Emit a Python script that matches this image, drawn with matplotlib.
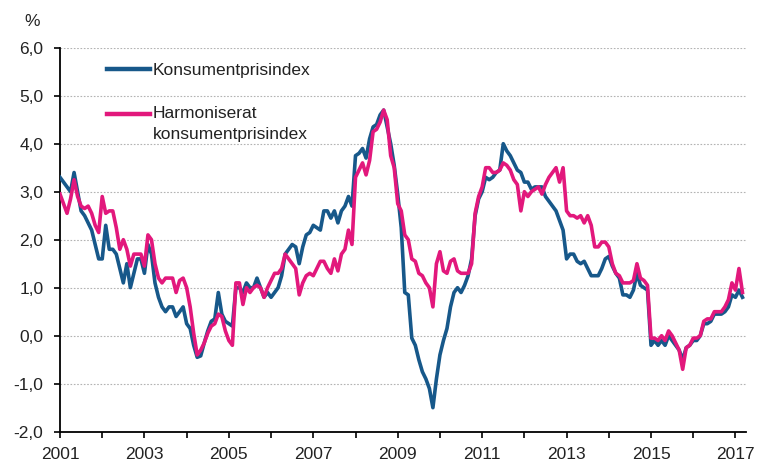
import numpy as np
import matplotlib
matplotlib.use("Agg")
import matplotlib.pyplot as plt
from matplotlib.lines import Line2D

plt.rcParams['font.family'] = ['Liberation Sans', 'DejaVu Sans']

# Monthly annual change (%), Jan 2001 - Mar 2017
kpi = [
    3.3, 3.2, 3.1, 3.0, 3.4, 3.0, 2.6, 2.5, 2.35, 2.2, 1.9, 1.6,          # 2001
    1.6, 2.3, 1.8, 1.8, 1.7, 1.4, 1.1, 1.5, 1.0, 1.3, 1.6, 1.6,           # 2002
    1.3, 1.9, 1.7, 1.1, 0.8, 0.6, 0.5, 0.6, 0.6, 0.4, 0.5, 0.6,           # 2003
    0.25, 0.15, -0.2, -0.45, -0.42, -0.15, 0.1, 0.3, 0.35, 0.9, 0.45, 0.3, # 2004
    0.25, 0.2, 1.0, 1.0, 0.9, 1.1, 1.0, 1.0, 1.2, 1.0, 0.8, 0.9,          # 2005
    0.8, 0.9, 1.0, 1.25, 1.7, 1.8, 1.9, 1.85, 1.5, 1.85, 2.1, 2.15,       # 2006
    2.3, 2.25, 2.2, 2.6, 2.6, 2.45, 2.6, 2.35, 2.6, 2.7, 2.9, 2.7,        # 2007
    3.75, 3.8, 3.9, 3.7, 4.1, 4.35, 4.4, 4.6, 4.7, 4.35, 4.0, 3.55,       # 2008
    2.95, 2.25, 0.9, 0.85, -0.05, -0.2, -0.5, -0.75, -0.9, -1.1, -1.5, -0.9,  # 2009
    -0.4, -0.1, 0.15, 0.6, 0.9, 1.0, 0.9, 1.05, 1.25, 1.6, 2.5, 2.85,     # 2010
    3.0, 3.3, 3.25, 3.3, 3.4, 3.45, 4.0, 3.85, 3.75, 3.6, 3.45, 3.4,      # 2011
    3.2, 3.2, 3.05, 3.1, 3.1, 3.1, 2.9, 2.8, 2.7, 2.6, 2.4, 2.2,          # 2012
    1.6, 1.7, 1.7, 1.55, 1.5, 1.55, 1.4, 1.25, 1.25, 1.25, 1.4, 1.6,      # 2013
    1.65, 1.45, 1.3, 1.2, 0.85, 0.85, 0.8, 0.95, 1.3, 1.05, 1.0, 0.95,    # 2014
    -0.2, -0.1, -0.2, -0.1, -0.2, 0.0, -0.1, -0.2, -0.3, -0.5, -0.25, -0.2,  # 2015
    -0.1, -0.1, 0.0, 0.25, 0.25, 0.3, 0.45, 0.45, 0.45, 0.5, 0.6, 0.85,   # 2016
    0.8, 0.95, 0.8,                                                       # 2017
]

hikp = [
    2.95, 2.75, 2.55, 2.85, 3.25, 2.9, 2.7, 2.65, 2.7, 2.55, 2.3, 2.15,   # 2001
    2.9, 2.55, 2.6, 2.6, 2.25, 1.8, 2.0, 1.8, 1.45, 1.7, 1.7, 1.7,        # 2002
    1.45, 2.1, 2.0, 1.5, 1.2, 1.1, 1.2, 1.2, 1.2, 0.9, 1.15, 1.2,         # 2003
    1.0, 0.6, 0.05, -0.4, -0.3, -0.15, 0.05, 0.2, 0.25, 0.45, 0.4, 0.1,   # 2004
    -0.1, -0.2, 1.1, 1.1, 0.65, 1.0, 0.9, 1.0, 1.05, 1.0, 0.8, 1.0,       # 2005
    1.15, 1.3, 1.3, 1.4, 1.7, 1.6, 1.5, 1.4, 0.85, 1.1, 1.25, 1.3,        # 2006
    1.25, 1.4, 1.55, 1.55, 1.4, 1.3, 1.6, 1.35, 1.7, 1.8, 2.2, 1.9,       # 2007
    3.3, 3.45, 3.6, 3.35, 3.65, 4.25, 4.3, 4.45, 4.7, 4.5, 3.75, 3.5,     # 2008
    2.75, 2.6, 2.1, 2.0, 1.6, 1.55, 1.3, 1.25, 1.1, 1.0, 0.6, 1.5,        # 2009
    1.75, 1.35, 1.3, 1.55, 1.6, 1.35, 1.3, 1.3, 1.3, 1.5, 2.55, 2.9,      # 2010
    3.1, 3.5, 3.5, 3.4, 3.4, 3.45, 3.6, 3.55, 3.45, 3.25, 3.15, 2.6,      # 2011
    3.0, 2.9, 3.0, 3.05, 3.1, 2.95, 3.15, 3.3, 3.4, 3.5, 3.2, 3.5,        # 2012
    2.6, 2.5, 2.5, 2.45, 2.5, 2.35, 2.5, 2.3, 1.85, 1.85, 1.95, 1.95,     # 2013
    1.85, 1.5, 1.3, 1.25, 1.1, 1.1, 1.1, 1.15, 1.5, 1.2, 1.15, 1.05,      # 2014
    -0.05, -0.05, -0.1, 0.0, -0.1, 0.1, 0.0, -0.15, -0.3, -0.7, -0.25, -0.2,  # 2015
    -0.05, -0.05, 0.0, 0.3, 0.35, 0.35, 0.5, 0.5, 0.5, 0.6, 0.75, 1.1,    # 2016
    0.95, 1.4, 0.9,                                                       # 2017
]

years = list(range(2001, 2018))
year_labels = [str(y) if (y - 2001) % 2 == 0 else '' for y in years]
y_ticks = [-2, -1, 0, 1, 2, 3, 4, 5, 6]
y_labels = [f"{v:.1f}".replace('.', ',') for v in y_ticks]

label_kpi = 'Konsumentprisindex'
label_hikp_1 = 'Harmoniserat'
label_hikp_2 = 'konsumentprisindex'

c_kpi = '#17588a'
c_hikp = '#e2187c'

W, H = 760, 465
fig = plt.figure(figsize=(W / 100, H / 100), dpi=100)
ax = fig.add_axes([60 / W, 1 - 431.7 / H, (746 - 60) / W, (431.7 - 47.7) / H])

x = np.arange(len(kpi))
ax.plot(x, kpi, color=c_kpi, lw=2.6, solid_joinstyle='round', zorder=3)
ax.plot(np.arange(len(hikp)), hikp, color=c_hikp, lw=2.6, solid_joinstyle='round', zorder=4)

ax.set_xlim(0, 195)
ax.set_ylim(-2, 6)
ax.set_yticks(y_ticks)
ax.set_yticklabels(y_labels)
ax.set_xticks([12 * i for i in range(len(years))])
ax.set_xticklabels(year_labels)

for s in ['top', 'right']:
    ax.spines[s].set_visible(False)
for s in ['left', 'bottom']:
    ax.spines[s].set_linewidth(1.3)
    ax.spines[s].set_color('black')

ax.tick_params(axis='y', direction='out', length=4, width=1.2, pad=8, labelsize=12.5, colors='black')
ax.tick_params(axis='x', direction='out', length=4, width=1.2, pad=7, labelsize=12.5, colors='black')
for t in ax.get_xticklabels() + ax.get_yticklabels():
    t.set_color('#222222')

ax.yaxis.grid(True, linestyle=(0, (1.5, 1.5)), color='#b3b3b3', lw=0.8)
ax.set_axisbelow(True)

# % unit label
fig.text(32 / W, 1 - 22 / H, '%', ha='center', va='center', fontsize=12.5, color='#222222')

# Legend (manual)
for yy, col in [(69.5, c_kpi), (113.5, c_hikp)]:
    fig.add_artist(Line2D([107 / W, 150 / W], [1 - yy / H, 1 - yy / H],
                          color=col, lw=3.2, transform=fig.transFigure))
fig.text(153 / W, 1 - 70.5 / H, label_kpi, ha='left', va='center', fontsize=12.5, color='#222222')
fig.text(153 / W, 1 - 113 / H, label_hikp_1, ha='left', va='center', fontsize=12.5, color='#222222')
fig.text(153 / W, 1 - 134.5 / H, label_hikp_2, ha='left', va='center', fontsize=12.5, color='#222222')

fig.savefig('out.png', dpi=100)
